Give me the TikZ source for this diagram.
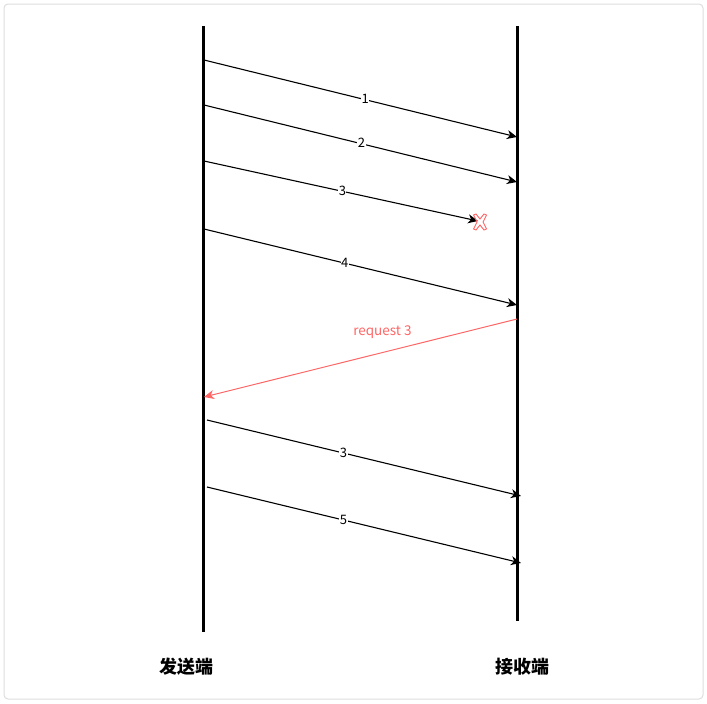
\documentclass[tikz,border=0pt]{standalone}
\usepackage{fontspec}
\setmainfont{Noto Sans CJK SC}
\usetikzlibrary{arrows.meta}
\definecolor{reqred}{HTML}{FF6666}
\definecolor{frame}{HTML}{DDDDDD}
\tikzset{
  life/.style={line width=3pt},
  msg/.style={line width=1.1pt,-{Stealth[length=10pt,width=9pt,inset=3pt]}},
  req/.style={reqred,line width=1pt,-{Stealth[length=10pt,width=9pt,inset=3pt]}},
  numlbl/.style={fill=white,inner sep=0.5pt,font=\fontsize{13pt}{15pt}\selectfont},
  reqlbl/.style={text=reqred,inner sep=1pt,font=\fontsize{13.5pt}{15pt}\selectfont},
  endlbl/.style={font=\fontsize{18pt}{20pt}\selectfont\bfseries},
}
\begin{document}
\begin{tikzpicture}[x=1pt,y=-1pt]
\useasboundingbox (0,0) rectangle (707,704);
\draw[frame,line width=1pt,rounded corners=4pt] (4,4) rectangle (703,699);
% lifelines
\coordinate (Lt) at (203,26); \coordinate (Lb) at (203,632);
\coordinate (Rt) at (517,26); \coordinate (Rb) at (517,621);
\draw[life] (Lt) -- (Lb);
\draw[life] (Rt) -- (Rb);
% message endpoints
\coordinate (s1) at (204,60);  \coordinate (e1) at (517,137);
\coordinate (s2) at (204,105); \coordinate (e2) at (517,182);
\coordinate (s3) at (204,161); \coordinate (e3) at (478,221);
\coordinate (s4) at (204,229); \coordinate (e4) at (517,305);
\coordinate (rs) at (517,319); \coordinate (re) at (204,397);
\coordinate (s6) at (207,420); \coordinate (e6) at (521,496);
\coordinate (s7) at (207,487); \coordinate (e7) at (521,563);
\draw[msg] (s1) -- node[numlbl,pos=0.515,yshift=1pt] (l1) {1} (e1);
\draw[msg] (s2) -- node[numlbl,pos=0.503,yshift=1pt] (l2) {2} (e2);
\draw[msg] (s3) -- node[numlbl,pos=0.505] (l3) {3} (e3);
\draw[msg] (s4) -- node[numlbl,pos=0.45] (l4) {4} (e4);
\draw[req] (rs) -- node[reqlbl,pos=0.43,yshift=20pt] (lr) {request 3} (re);
\draw[msg] (s6) -- node[numlbl,pos=0.435] (l6) {3} (e6);
\draw[msg] (s7) -- node[numlbl,pos=0.435] (l7) {5} (e7);
% lost marker
\coordinate (x) at (480,222);
\draw[reqred,line width=0.9pt,line join=miter] (x) ++(0,-3) -- ++(4,-5) -- ++(2.5,1) -- ++(-3.5,7)
  -- ++(3.5,7) -- ++(-2.5,1) -- ++(-4,-5) -- ++(-4,5) -- ++(-2.5,-1) -- ++(3.5,-7)
  -- ++(-3.5,-7) -- ++(2.5,-1) -- cycle;
% end labels
\node[endlbl] (snd) at (186,667) {发送端};
\node[endlbl] (rcv) at (522,667) {接收端};
\end{tikzpicture}
\end{document}
